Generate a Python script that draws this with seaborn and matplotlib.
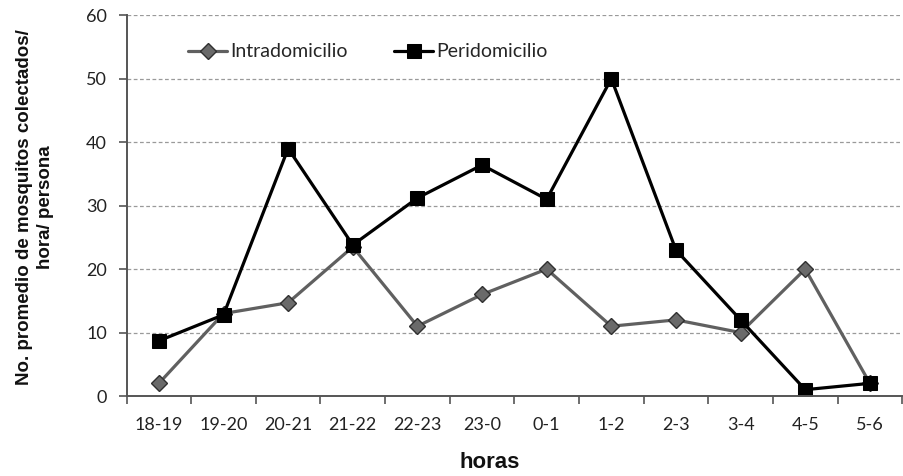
import matplotlib
matplotlib.use("Agg")
import matplotlib.pyplot as plt
import seaborn as sns
import pandas as pd
import numpy as np
from matplotlib.ticker import FixedLocator, NullFormatter

horas = ["18-19", "19-20", "20-21", "21-22", "22-23", "23-0", "0-1", "1-2", "2-3", "3-4", "4-5", "5-6"]
intradomicilio = [2, 13, 14.7, 23.5, 11, 16, 20, 11, 12, 10, 20, 2]
peridomicilio = [8.7, 12.8, 39, 23.8, 31.2, 36.4, 31, 50, 23, 12, 1, 2]

sns.set_theme(style="white")
plt.rcParams['font.family'] = ['Lato', 'DejaVu Sans']

df = pd.DataFrame({
    "horas": horas * 2,
    "valor": intradomicilio + peridomicilio,
    "serie": ["Intradomicilio"] * len(horas) + ["Peridomicilio"] * len(horas),
})

fig = plt.figure(figsize=(9.04, 4.76), dpi=100)
ax = fig.add_axes([0.140, 0.168, 0.858, 0.800])

ax.grid(axis="y", color="#9a9a9a", linestyle=(0, (3, 2)), linewidth=0.9)
ax.set_axisbelow(True)

sns.lineplot(data=df[df.serie == "Intradomicilio"], x="horas", y="valor", ax=ax,
             color="#606060", linewidth=2.3, marker="D", markersize=8.5,
             markerfacecolor="#6a6a6a", markeredgecolor="#303030", markeredgewidth=1,
             label="Intradomicilio", sort=False)
sns.lineplot(data=df[df.serie == "Peridomicilio"], x="horas", y="valor", ax=ax,
             color="black", linewidth=2.3, marker="s", markersize=10,
             markerfacecolor="black", markeredgecolor="black",
             label="Peridomicilio", sort=False)

ax.set_xlim(-0.5, len(horas) - 0.5)
ax.set_ylim(0, 60)
ax.set_yticks(range(0, 61, 10))
ax.set_xticks(range(len(horas)))
ax.set_xticklabels(horas)
ax.xaxis.set_minor_locator(FixedLocator(np.arange(-0.5, len(horas), 1.0)))
ax.xaxis.set_minor_formatter(NullFormatter())
ax.tick_params(axis="x", which="major", length=0, labelsize=13, pad=15, labelcolor="#222222")
ax.tick_params(axis="x", which="minor", length=6, width=1.2, direction="out", color="#555555", bottom=True)
ax.tick_params(axis="y", which="major", length=6, width=1.2, direction="out", color="#555555",
               labelsize=13, left=True, labelcolor="#222222", pad=8)

for s in ["top", "right"]:
    ax.spines[s].set_visible(False)
for s in ["left", "bottom"]:
    ax.spines[s].set_color("#555555")
    ax.spines[s].set_linewidth(1.4)

ax.set_xlabel("horas", fontsize=16, fontweight="bold", color="#111111",
              family=["Liberation Sans", "DejaVu Sans"])
ax.xaxis.set_label_coords(0.468, -0.147)
ax.xaxis.label.set_va("top")
ax.set_ylabel("No. promedio de mosquitos colectados/\nhora/ persona", fontsize=13.5,
              fontweight="bold", color="#111111", linespacing=1.3,
              family=["Liberation Sans", "DejaVu Sans"])
ax.yaxis.set_label_coords(-0.094, 0.497)

leg = ax.legend(loc="upper left", bbox_to_anchor=(0.057, 0.972), ncol=2, frameon=False,
                fontsize=14, handlelength=2.0, handletextpad=0.15, columnspacing=2.4)

fig.savefig("out.png", dpi=100)
